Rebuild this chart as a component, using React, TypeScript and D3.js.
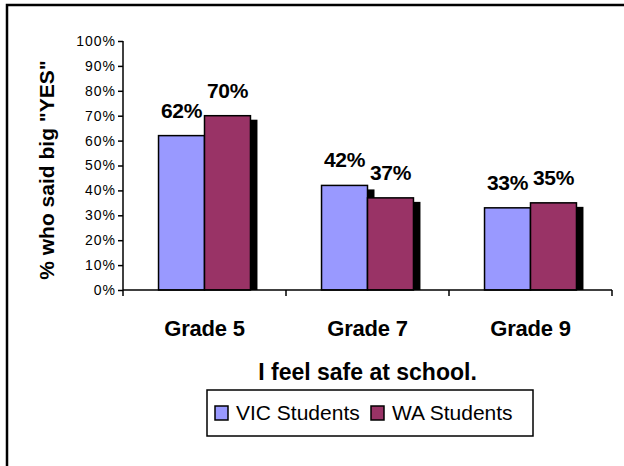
import React, { useRef, useEffect } from "react";
import * as d3 from "d3";

// chart data
const categories = ["Grade 5", "Grade 7", "Grade 9"];
const seriesNames = ["VIC Students", "WA Students"];
const vicValues = [62, 42, 33];
const waValues = [70, 37, 35];
const yTicks = [0, 10, 20, 30, 40, 50, 60, 70, 80, 90, 100];
const chartTitle = "I feel safe at school.";
const yTitle = "% who said big \"YES\"";

const colors = ["#9999FF", "#993366"];
const FONT = "'Liberation Sans', Arial, sans-serif";

export default function App() {
  const svgRef = useRef<SVGSVGElement>(null);

  useEffect(() => {
    const svg = d3.select(svgRef.current);
    svg.selectAll("*").remove();

    const left = 123, right = 612, top = 41, bottom = 290;

    // outer frame (cropped at right/bottom)
    svg.append("path")
      .attr("d", "M7,466V5H624")
      .attr("fill", "none")
      .attr("stroke", "#000")
      .attr("stroke-width", 2.5);

    const yScale = d3.scaleLinear().domain([0, 100]).range([bottom, top]);
    const xScale = d3.scaleBand<string>()
      .domain(categories)
      .range([left, right])
      .paddingInner(0.436)
      .paddingOuter(0.218);
    const xSub = d3.scaleBand<string>()
      .domain(seriesNames)
      .range([0, xScale.bandwidth()]);

    const rows = categories.map((c, i) => ({ cat: c, vals: [vicValues[i], waValues[i]] }));

    // shadows first
    const shadowDx = 7, shadowDy = 4;
    rows.forEach(r => {
      r.vals.forEach((v, j) => {
        const x = (xScale(r.cat) as number) + (xSub(seriesNames[j]) as number);
        svg.append("rect")
          .attr("x", x + shadowDx)
          .attr("y", yScale(v) + shadowDy)
          .attr("width", xSub.bandwidth())
          .attr("height", bottom - yScale(v) - shadowDy)
          .attr("fill", "#000");
      });
    });

    // bars
    rows.forEach(r => {
      r.vals.forEach((v, j) => {
        const x = (xScale(r.cat) as number) + (xSub(seriesNames[j]) as number);
        svg.append("rect")
          .attr("x", x)
          .attr("y", yScale(v))
          .attr("width", xSub.bandwidth())
          .attr("height", bottom - yScale(v))
          .attr("fill", colors[j])
          .attr("stroke", "#000")
          .attr("stroke-width", 1.5);
        svg.append("text")
          .attr("x", x + xSub.bandwidth() / 2)
          .attr("y", yScale(v) - 18)
          .attr("text-anchor", "middle")
          .style("font-family", FONT)
          .style("font-weight", "bold")
          .style("font-size", "21px")
          .style("letter-spacing", "-0.3px")
          .text(v + "%");
      });
    });

    // y axis
    const yAxis = d3.axisLeft(yScale)
      .tickValues(yTicks)
      .tickSize(5)
      .tickPadding(2)
      .tickFormat(d => d + "%");
    const gy = svg.append("g")
      .attr("transform", `translate(${left},0)`)
      .call(yAxis);
    gy.select(".domain").attr("stroke", "#000").attr("stroke-width", 1.5)
      .attr("d", `M0,${top}V${bottom}`);
    gy.selectAll(".tick line").attr("stroke", "#000").attr("stroke-width", 1.5);
    gy.selectAll(".tick text")
      .attr("fill", "#000")
      .style("font-family", FONT)
      .style("font-size", "14px")
      .style("letter-spacing", "1px");

    // x axis
    const gx = svg.append("g")
      .attr("transform", `translate(0,${bottom})`);
    gx.append("path")
      .attr("d", `M${left},0H${right}`)
      .attr("stroke", "#000")
      .attr("stroke-width", 1.5);
    const step = xScale.step();
    const bounds = categories.map((c, i) => left + i * step).concat([right]);
    bounds.forEach(b => {
      gx.append("line")
        .attr("x1", b).attr("x2", b)
        .attr("y1", 0).attr("y2", 6)
        .attr("stroke", "#000")
        .attr("stroke-width", 1.5);
    });
    categories.forEach(c => {
      svg.append("text")
        .attr("x", left + categories.indexOf(c) * step + step / 2)
        .attr("y", 336)
        .attr("text-anchor", "middle")
        .style("font-family", FONT)
        .style("font-weight", "bold")
        .style("font-size", "22px")
        .style("letter-spacing", "-0.2px")
        .text(c);
    });

    // axis titles
    svg.append("text")
      .attr("x", (left + right) / 2)
      .attr("y", 380)
      .attr("text-anchor", "middle")
      .style("font-family", FONT)
      .style("font-weight", "bold")
      .style("font-size", "23px")
      .text(chartTitle);

    svg.append("text")
      .attr("transform", "translate(54,170) rotate(-90)")
      .attr("text-anchor", "middle")
      .style("font-family", FONT)
      .style("font-weight", "bold")
      .style("font-size", "21px")
      .text(yTitle);

    // legend
    const lg = svg.append("g");
    lg.append("rect")
      .attr("x", 207).attr("y", 390)
      .attr("width", 326).attr("height", 46)
      .attr("fill", "#fff")
      .attr("stroke", "#000")
      .attr("stroke-width", 1.5);
    const legendX = [215, 371];
    seriesNames.forEach((s, i) => {
      lg.append("rect")
        .attr("x", legendX[i]).attr("y", 406)
        .attr("width", 13).attr("height", 14)
        .attr("fill", colors[i])
        .attr("stroke", "#000")
        .attr("stroke-width", 1.5);
      lg.append("text")
        .attr("x", legendX[i] + 21)
        .attr("y", 420)
        .style("font-family", FONT)
        .style("font-size", "21px")
        .text(s);
    });
  }, []);

  return (
    <svg ref={svgRef} width={624} height={466}
      style={{ position: "absolute", left: 0, top: 0, background: "#fff" }} />
  );
}
